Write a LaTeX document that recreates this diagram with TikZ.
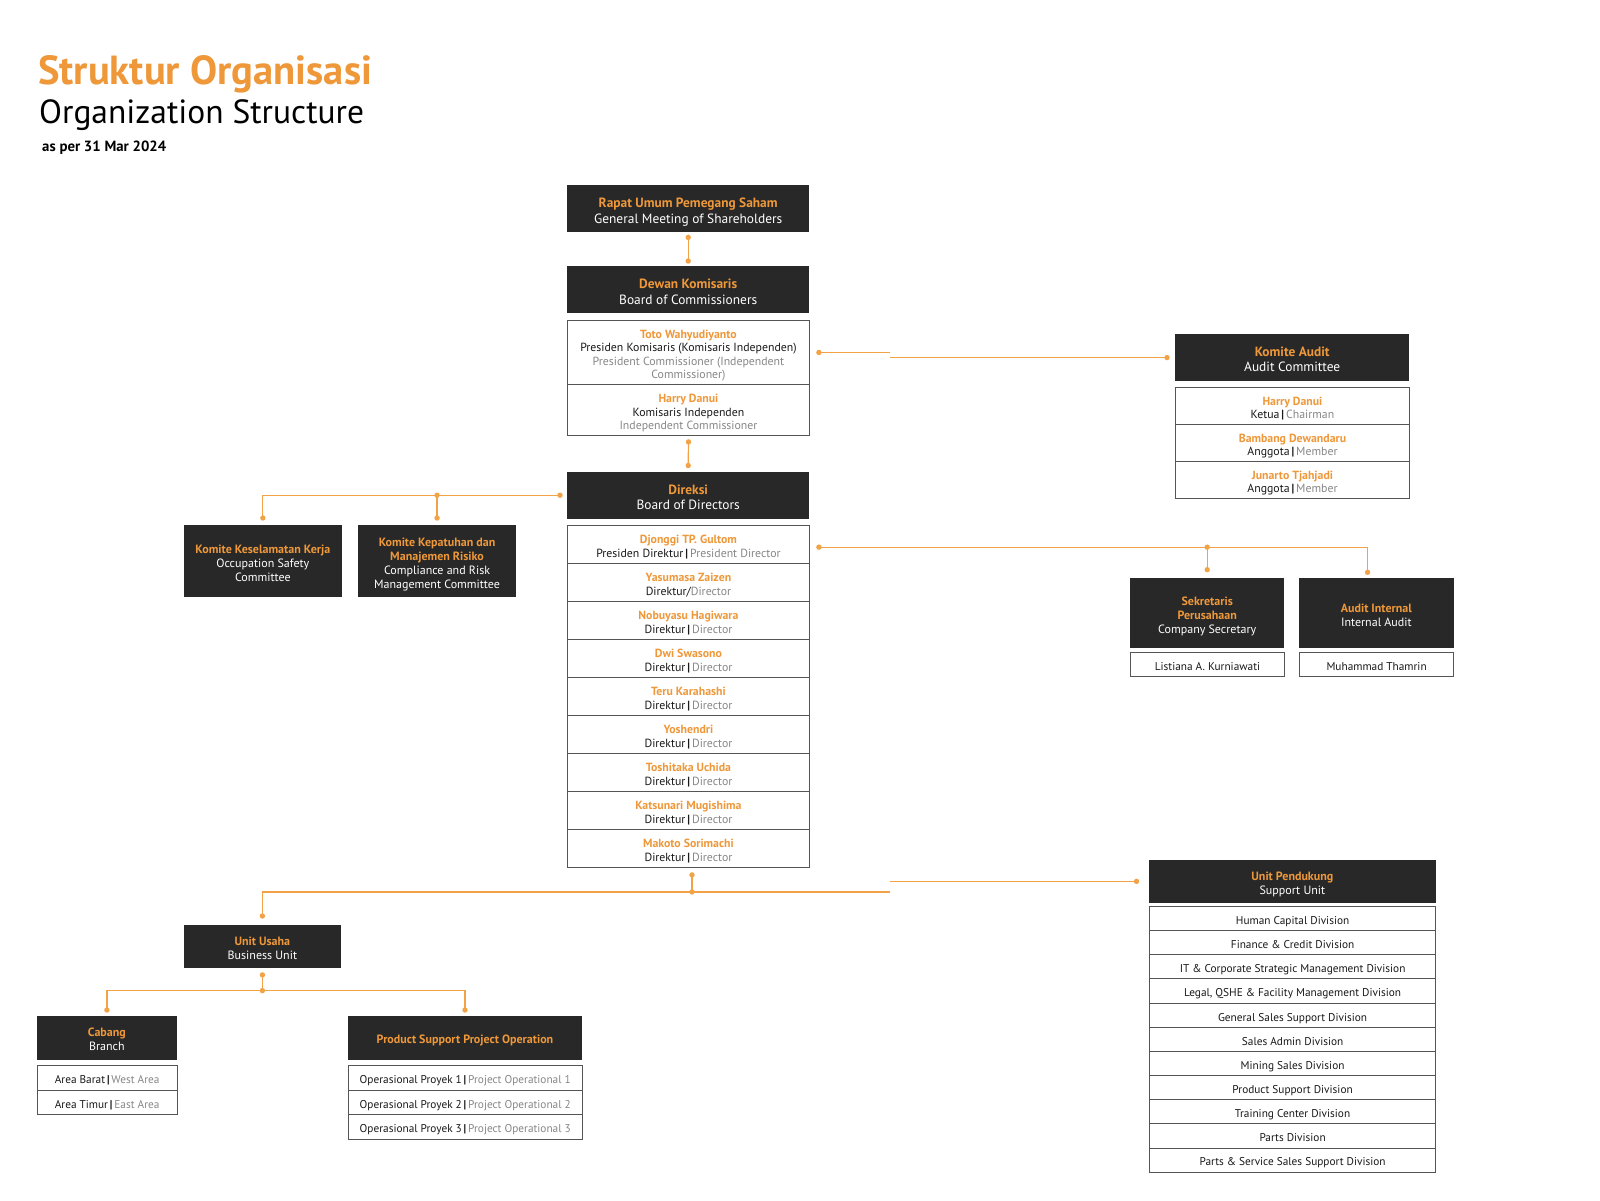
\documentclass[tikz,border=0pt]{standalone}
\usepackage{fontspec}
\setmainfont{PT Sans}
\usetikzlibrary{calc}
\definecolor{orn}{RGB}{238,152,58}
\definecolor{lno}{RGB}{242,163,72}
\definecolor{dkb}{RGB}{40,40,40}
\definecolor{gyt}{RGB}{135,135,135}
\definecolor{bdr}{RGB}{85,85,85}
\definecolor{txb}{RGB}{25,25,25}
\newcommand\topstrut[1]{\rule{0pt}{\dimexpr0.95em+#1\relax}}
\newcommand\botstrut{\rule[-0.25em]{0pt}{0pt}}
\newcommand\orn[1]{{\bfseries\color{orn}#1}}
\newcommand\hd[1]{\topstrut{4pt}{\bfseries\color{orn}#1}}
\newcommand\gry[1]{{\color{gyt}#1}}
\newcommand\barsep{\,{\bfseries|}\,}
\begin{document}
\begin{tikzpicture}[x=1pt,y=-1pt,
  cbox/.style={align=center, inner sep=0pt, anchor=north west,
     execute at begin node={\topstrut{4pt}}, execute at end node={\botstrut}},
  dbig/.style={cbox, fill=dkb, text=white, font=\fontsize{13.4}{15.5}\selectfont},
  dsm/.style={cbox, fill=dkb, text=white, font=\fontsize{12}{13.9}\selectfont},
  wbox/.style={cbox, draw=bdr, line width=0.9pt, fill=white, text=txb, font=\fontsize{11.8}{13.2}\selectfont},
  sbox/.style={wbox, font=\fontsize{11.3}{13}\selectfont},
  conn/.style={draw=lno, line width=1.2pt}]
\fill[white] (0,0) rectangle (1600,1200);
\useasboundingbox (0,0) rectangle (1600,1200);
% titles
\node[anchor=base west, inner sep=0pt, text=orn, font=\bfseries\fontsize{40.6}{40.6}\selectfont] (t1) at (38,84) {Struktur Organisasi};
\node[anchor=base west, inner sep=0pt, text=black, font=\fontsize{33.5}{33.5}\selectfont] (t2) at (39,123.3) {Organization Structure};
\node[anchor=base west, inner sep=0pt, text=black, font=\bfseries\fontsize{14.8}{14.8}\selectfont] (t3) at (42,151.7) {as per 31 Mar 2024};
% centre column
\node[dbig, minimum width=242, minimum height=47] (rups) at (567,185) {\hd{Rapat Umum Pemegang Saham}\\General Meeting of Shareholders};
\node[dbig, minimum width=242, minimum height=47] (dewan) at (567,266) {\hd{Dewan Komisaris}\\Board of Commissioners};
\node[wbox, minimum width=242, minimum height=64] (c1) at (567,320) {\hd{Toto Wahyudiyanto}\\Presiden Komisaris (Komisaris Independen)\\\gry{President Commissioner (Independent}\\\gry{Commissioner)}};
\node[wbox, minimum width=242, minimum height=51] (c2) at (567,384) {\hd{Harry Danui}\\Komisaris Independen\\\gry{Independent Commissioner}};
\node[dbig, minimum width=242, minimum height=47] (direksi) at (567,471.5) {\hd{Direksi}\\Board of Directors};
\node[wbox, minimum width=242, minimum height=38] (d1) at (567,525) {\hd{Djonggi TP. Gultom}\\Presiden Direktur\barsep\gry{President Director}};
\node[wbox, minimum width=242, minimum height=38] (d2) at (567,563) {\hd{Yasumasa Zaizen}\\Direktur/\gry{Director}};
\node[wbox, minimum width=242, minimum height=38] (d3) at (567,601) {\hd{Nobuyasu Hagiwara}\\Direktur\barsep\gry{Director}};
\node[wbox, minimum width=242, minimum height=38] (d4) at (567,639) {\hd{Dwi Swasono}\\Direktur\barsep\gry{Director}};
\node[wbox, minimum width=242, minimum height=38] (d5) at (567,677) {\hd{Teru Karahashi}\\Direktur\barsep\gry{Director}};
\node[wbox, minimum width=242, minimum height=38] (d6) at (567,715) {\hd{Yoshendri}\\Direktur\barsep\gry{Director}};
\node[wbox, minimum width=242, minimum height=38] (d7) at (567,753) {\hd{Toshitaka Uchida}\\Direktur\barsep\gry{Director}};
\node[wbox, minimum width=242, minimum height=38] (d8) at (567,791) {\hd{Katsunari Mugishima}\\Direktur\barsep\gry{Director}};
\node[wbox, minimum width=242, minimum height=38] (d9) at (567,829) {\hd{Makoto Sorimachi}\\Direktur\barsep\gry{Director}};
% left committees
\node[dsm, minimum width=158.7, minimum height=71.7] (k1) at (183.3,525) {\hd{Komite Keselamatan Kerja}\\Occupation Safety\\Committee};
\node[dsm, minimum width=158.3, minimum height=71.7] (k2) at (357.7,525) {\hd{Komite Kepatuhan dan}\\\orn{Manajemen Risiko}\\Compliance and Risk\\Management Committee};
% audit committee
\node[dbig, minimum width=234, minimum height=46.7] (ka) at (1175,334) {\hd{Komite Audit}\\Audit Committee};
\node[wbox, minimum width=234, minimum height=37] (a1) at (1175,386.7) {\hd{Harry Danui}\\Ketua\barsep\gry{Chairman}};
\node[wbox, minimum width=234, minimum height=37] (a2) at (1175,423.7) {\hd{Bambang Dewandaru}\\Anggota\barsep\gry{Member}};
\node[wbox, minimum width=234, minimum height=37] (a3) at (1175,460.7) {\hd{Junarto Tjahjadi}\\Anggota\barsep\gry{Member}};
% secretary & internal audit
\node[dsm, minimum width=154, minimum height=70] (sek) at (1130,577.7) {\hd{Sekretaris}\\\orn{Perusahaan}\\Company Secretary};
\node[sbox, minimum width=154, minimum height=24.3] (sekn) at (1130,651.7) {Listiana A. Kurniawati};
\node[dsm, minimum width=154.3, minimum height=70] (ai) at (1299,577.7) {\hd{Audit Internal}\\Internal Audit};
\node[sbox, minimum width=154.3, minimum height=24.3] (ain) at (1299,651.7) {Muhammad Thamrin};
% support unit
\node[dsm, minimum width=286.3, minimum height=42.3] (sup) at (1149,860) {\hd{Unit Pendukung}\\Support Unit};
\node[sbox, minimum width=286.3, minimum height=24.15] (s1) at (1149,906) {Human Capital Division};
\node[sbox, minimum width=286.3, minimum height=24.15] (s2) at (1149,930.15) {Finance \& Credit Division};
\node[sbox, minimum width=286.3, minimum height=24.15] (s3) at (1149,954.3) {IT \& Corporate Strategic Management Division};
\node[sbox, minimum width=286.3, minimum height=24.15] (s4) at (1149,978.45) {Legal, QSHE \& Facility Management Division};
\node[sbox, minimum width=286.3, minimum height=24.15] (s5) at (1149,1002.6) {General Sales Support Division};
\node[sbox, minimum width=286.3, minimum height=24.15] (s6) at (1149,1026.75) {Sales Admin Division};
\node[sbox, minimum width=286.3, minimum height=24.15] (s7) at (1149,1050.9) {Mining Sales Division};
\node[sbox, minimum width=286.3, minimum height=24.15] (s8) at (1149,1075.05) {Product Support Division};
\node[sbox, minimum width=286.3, minimum height=24.15] (s9) at (1149,1099.2) {Training Center Division};
\node[sbox, minimum width=286.3, minimum height=24.15] (s10) at (1149,1123.35) {Parts Division};
\node[sbox, minimum width=286.3, minimum height=24.15] (s11) at (1149,1147.5) {Parts \& Service Sales Support Division};
% business unit
\node[dsm, minimum width=157, minimum height=43] (uu) at (183.7,924.5) {\hd{Unit Usaha}\\Business Unit};
\node[dsm, minimum width=140, minimum height=44] (cab) at (36.7,1015.5) {\hd{Cabang}\\Branch};
\node[sbox, minimum width=140, minimum height=24.5] (cab1) at (36.7,1065) {Area Barat\barsep\gry{West Area}};
\node[sbox, minimum width=140, minimum height=24.5] (cab2) at (36.7,1089.5) {Area Timur\barsep\gry{East Area}};
\node[dsm, minimum width=233.6, minimum height=44] (ps) at (348,1015.5) {\orn{Product Support Project Operation}};
\node[sbox, minimum width=233.6, minimum height=24.5] (ps1) at (348,1065) {Operasional Proyek 1\barsep\gry{Project Operational 1}};
\node[sbox, minimum width=233.6, minimum height=24.5] (ps2) at (348,1089.5) {Operasional Proyek 2\barsep\gry{Project Operational 2}};
\node[sbox, minimum width=233.6, minimum height=24.5] (ps3) at (348,1114) {Operasional Proyek 3\barsep\gry{Project Operational 3}};
% connector points
\coordinate (brk) at (890,0);
\coordinate (r1) at ([yshift=-5pt]rups.south);
\coordinate (r2) at ([yshift=5pt]dewan.north);
\coordinate (cd1) at ([yshift=-6pt]c2.south);
\coordinate (cd2) at ([yshift=6pt]direksi.north);
\coordinate (dl) at ([xshift=-7pt]direksi.west);
\coordinate (k1t) at ([yshift=7pt]k1.north);
\coordinate (k2t) at ([yshift=7pt]k2.north);
\coordinate (j1) at (k2t |- dl);
\coordinate (cr) at ([xshift=9pt]c1.east);
\coordinate (kal) at ([xshift=-8pt]ka.west);
\coordinate (dr) at ([xshift=9pt,yshift=-2.7pt]d1.east);
\coordinate (sekt) at ([yshift=8pt]sek.north);
\coordinate (ait) at ([xshift=-8.8pt,yshift=5.4pt]ai.north);
\coordinate (j2) at (sekt |- dr);
\coordinate (db) at ([xshift=3.5pt,yshift=-7pt]d9.south);
\coordinate (jb) at ([yshift=-17pt]db);
\coordinate (uut) at ([yshift=8.5pt]uu.north);
\coordinate (supl) at ([xshift=-12.5pt]sup.west);
\coordinate (uub) at ([yshift=-7pt]uu.south);
\coordinate (ju) at ([yshift=-22.7pt]uu.south);
\coordinate (cabt) at ([yshift=5.5pt]cab.north);
\coordinate (pst) at ([yshift=5.5pt]ps.north);
% connectors
\draw[conn] (r1) -- (r2);
\draw[conn] (cd1) -- (cd2);
\draw[conn] (dl) -| (k1t);
\draw[conn] (j1) -- (k2t);
\draw[conn] (cr) -- (cr -| brk) (brk |- kal) -- (kal);
\draw[conn] (dr) -| (ait);
\draw[conn] (j2) -- (sekt);
\draw[conn] (db) -- (jb);
\draw[conn] (jb) -| (uut);
\draw[conn] (jb) -- (jb -| brk) (brk |- supl) -- (supl);
\draw[conn] (uub) -- (ju);
\draw[conn] (cabt) |- (ju) -| (pst);
\foreach \p in {r1,r2,cd1,cd2,dl,k1t,k2t,j1,cr,kal,dr,sekt,ait,j2,db,jb,uut,supl,uub,ju,cabt,pst}
  \fill[lno] (\p) circle (2.7);
\end{tikzpicture}
\end{document}
